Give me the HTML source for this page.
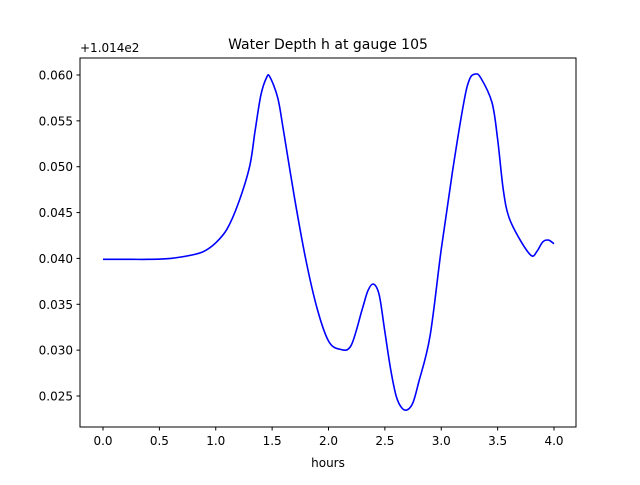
<!DOCTYPE html>
<html><head><meta charset="utf-8"><style>body{margin:0;background:#fff}svg text{font-family:"DejaVu Sans","Liberation Sans",sans-serif}</style></head>
<body>
<svg id="chart" width="640" height="480" xmlns="http://www.w3.org/2000/svg">
<rect width="640" height="480" fill="#fff"/>
<text x="328" y="49" text-anchor="middle" font-size="14">Water Depth h at gauge 105</text>
<text x="80" y="52" font-size="12">+1.014e2</text>
<text x="328" y="467" text-anchor="middle" font-size="12">hours</text>
<g id="ticks"></g>
<path id="line" fill="none" stroke="#0000ff" stroke-width="1.6"/>
<rect x="80" y="58" width="496" height="369" fill="none" stroke="#000" stroke-width="1"/>
</svg>
<script>
const times=[0,0.25,0.4,0.6,0.8,0.9,1.0,1.1,1.2,1.3,1.35,1.4,1.45,1.48,1.55,1.6,1.7,1.8,1.9,2.0,2.1,2.2,2.3,2.35,2.4,2.45,2.5,2.55,2.6,2.65,2.7,2.75,2.8,2.9,3.0,3.1,3.2,3.25,3.3,3.35,3.45,3.5,3.55,3.6,3.7,3.8,3.85,3.9,3.95,4.0];
const depths=[0.0399,0.0399,0.0399,0.0400,0.0404,0.0408,0.0417,0.0432,0.0460,0.0500,0.0540,0.0578,0.0597,0.0598,0.0575,0.0540,0.0465,0.0398,0.0345,0.0310,0.0301,0.0305,0.0345,0.0365,0.0372,0.0360,0.0320,0.0280,0.0250,0.0237,0.0235,0.0243,0.0265,0.0315,0.0410,0.0495,0.0570,0.0595,0.0601,0.0597,0.0570,0.0530,0.0475,0.0445,0.0420,0.0403,0.0408,0.0418,0.0420,0.0416];
const xTicks=[0,0.5,1,1.5,2,2.5,3,3.5,4];
const xTickLabels=["0.0","0.5","1.0","1.5","2.0","2.5","3.0","3.5","4.0"];
const yTicks=[0.025,0.030,0.035,0.040,0.045,0.050,0.055,0.060];
const yTickLabels=["0.025","0.030","0.035","0.040","0.045","0.050","0.055","0.060"];
const X=v=>103+v*112.75;
const Y=v=>75+(0.060-v)*9171.4;
const NS="http://www.w3.org/2000/svg";
const g=document.getElementById('ticks');
function mk(t,a){const e=document.createElementNS(NS,t);for(const k in a)e.setAttribute(k,a[k]);g.appendChild(e);return e;}
xTicks.forEach((v,i)=>{const l=mk('line',{x1:X(v),x2:X(v),y1:427,y2:430.5,stroke:'#000'});


const t=mk('text',{x:X(v),y:445,'text-anchor':'middle','font-size':12});t.textContent=xTickLabels[i];

});
yTicks.forEach((v,i)=>{const l=mk('line',{x1:76.5,x2:80,y1:Y(v),y2:Y(v),stroke:'#000'});


const t=mk('text',{x:73,y:Y(v)+4.5,'text-anchor':'end','font-size':12});t.textContent=yTickLabels[i];

});
// Catmull-Rom smoothing
const P=times.map((t,i)=>[X(t),Y(depths[i])]);
let d='M'+P[0][0]+','+P[0][1];
for(let i=0;i<P.length-1;i++){const p0=P[Math.max(0,i-1)],p1=P[i],p2=P[i+1],p3=P[Math.min(P.length-1,i+2)];
const c1=[p1[0]+(p2[0]-p0[0])/6,p1[1]+(p2[1]-p0[1])/6],c2=[p2[0]-(p3[0]-p1[0])/6,p2[1]-(p3[1]-p1[1])/6];
d+=` C${c1[0]},${c1[1]} ${c2[0]},${c2[1]} ${p2[0]},${p2[1]}`;}
document.getElementById('line').setAttribute('d',d);
</script>
</body></html>
